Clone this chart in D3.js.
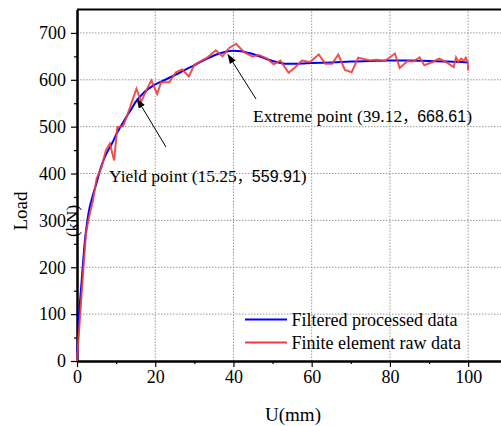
<!DOCTYPE html>
<html><head><meta charset="utf-8">
<script src="https://cdn.jsdelivr.net/npm/d3@7"></script>
<style>body{margin:0;background:#fff}svg{display:block}text{font-family:"Liberation Serif","Times New Roman",serif;fill:#000}</style>
</head><body><svg id="c" width="501" height="426"></svg>
<script>
// Filtered processed data (blue)
const filteredU = [0,0.5,1,1.5,2,2.5,3,4,5,6,7,8,9,10,11,12,13,14,15,16,17,18,19,20,22,24,26,28,30,32,34,36,38,40,42,44,46,48,50,52,54,56,58,60,65,70,75,80,85,90,95,100];
const filteredLoad = [0,95,150,205,255,290,318,352,380,410,433,450,465,483,498,512,526,539,553,563,572,579,585,590,598,606,614,623,631,640,648,655,660,662,661,657,652,646,640,636,634,634,635,636,637,639,640,641,641,640,639,637];
// Finite element raw data (red)
const rawU = [0,1.6,2.3,2.9,3.3,4.1,5.0,6.3,7.4,8.4,9.5,10.3,11.8,13.0,15.2,16.4,17.7,19.0,20.5,21.5,23.6,25.3,26.9,28.6,30.0,33.4,35.5,37.2,38.9,40.7,42.7,44.8,46.5,48.6,50.3,52.0,54.1,55.8,57.5,59.6,61.8,63.5,65.2,66.8,68.5,70.2,71.9,74.9,76.6,78.7,81.3,82.5,84.5,85.9,87.6,88.8,90.9,92.6,94.3,96.3,96.9,97.5,98.2,98.9,99.4,99.9,100];
const rawLoad = [0,194,272,300,315,343,389,414,450,464,428,499,501,528,581,553,577,599,570,595,595,616,622,607,632,648,663,650,668,677,659,650,653,645,633,641,615,627,641,638,654,634,634,654,621,616,647,641,643,640,656,625,640,639,648,631,638,645,638,627,648,638,645,641,647,638,620];
const xTicks = [0,20,40,60,80,100];
const yTicks = [0,100,200,300,400,500,600,700];
const legendLabels = ["Filtered processed data","Finite element raw data"];
const yieldPoint = {u:15.25, load:559.91};
const extremePoint = {u:39.12, load:668.61};

const svg = d3.select("#c");
const L = 77, R = 501, T = 9.5, B = 361;
const x = d3.scaleLinear().domain([0,108.4]).range([L,R]);
const y = d3.scaleLinear().domain([0,750]).range([B,T]);

// grid
const g = svg.append("g");
g.selectAll(".gx").data(xTicks.slice(1)).enter().append("line")
  .attr("x1",d=>x(d)).attr("x2",d=>x(d)).attr("y1",B).attr("y2",T)
  .attr("stroke","#999").attr("stroke-width",1).attr("stroke-dasharray","1.5,1.5");
g.selectAll(".gy").data(yTicks.slice(1)).enter().append("line")
  .attr("x1",L).attr("x2",R).attr("y1",d=>y(d)).attr("y2",d=>y(d))
  .attr("stroke","#999").attr("stroke-width",1).attr("stroke-dasharray","1.5,1.5");

// axes
const xMinor = d3.range(10,101,20);
const yMinor = d3.range(50,751,100).filter(v=>v<750);
const xAxis = d3.axisBottom(x).tickValues(xTicks).tickSize(6).tickSizeOuter(0).tickPadding(3);
const xa = svg.append("g").attr("transform",`translate(0,${B})`).call(xAxis);
xa.selectAll("text").attr("font-size",18).style("font-family","Liberation Serif");
const xa2 = svg.append("g").attr("transform",`translate(0,${B})`).call(d3.axisBottom(x).tickValues(xMinor).tickSize(3).tickFormat("").tickSizeOuter(0));
const yAxis = d3.axisLeft(y).tickValues(yTicks).tickSize(6).tickSizeOuter(0).tickPadding(5);
const ya = svg.append("g").attr("transform",`translate(${L},0)`).call(yAxis);
ya.selectAll("text").attr("font-size",18).style("font-family","Liberation Serif");
const ya2 = svg.append("g").attr("transform",`translate(${L},0)`).call(d3.axisLeft(y).tickValues(yMinor).tickSize(3).tickFormat("").tickSizeOuter(0));
[xa,xa2,ya,ya2].forEach(a=>{a.select(".domain").attr("stroke","#000").attr("stroke-width",2);a.selectAll(".tick line").attr("stroke","#000").attr("stroke-width",1.2);});
svg.append("line").attr("x1",L).attr("x2",R).attr("y1",T).attr("y2",T).attr("stroke","#000").attr("stroke-width",2);

// lines
const lineF = d3.line().x((d,i)=>x(filteredU[i])).y(d=>y(d)).curve(d3.curveMonotoneX);
svg.append("path").attr("d",lineF(filteredLoad)).attr("fill","none").attr("stroke","#0000ff").attr("stroke-width",2);
const lineR = d3.line().x((d,i)=>x(rawU[i])).y(d=>y(d));
svg.append("path").attr("d",lineR(rawLoad)).attr("fill","none").attr("stroke","#f03c3c").attr("stroke-width",2).attr("stroke-opacity",0.9);

// arrows
const defs = svg.append("defs");
defs.append("marker").attr("id","ah").attr("viewBox","0 0 10 10").attr("refX",9).attr("refY",5)
  .attr("markerWidth",10).attr("markerHeight",10).attr("markerUnits","userSpaceOnUse").attr("orient","auto")
  .append("path").attr("d","M0,1.5 L10,5 L0,8.5 Z").attr("fill","#000");
svg.append("line").attr("x1",166).attr("y1",147).attr("x2",x(yieldPoint.u)+0.5).attr("y2",y(yieldPoint.load)+0.5)
  .attr("stroke","#000").attr("stroke-width",1).attr("marker-end","url(#ah)");
svg.append("line").attr("x1",256).attr("y1",99).attr("x2",x(extremePoint.u)-2).attr("y2",y(extremePoint.load)+7)
  .attr("stroke","#000").attr("stroke-width",1).attr("marker-end","url(#ah)");

// annotations
function annot(xp, yp, name, p){
  const t = svg.append("text").attr("x",xp).attr("y",yp).attr("font-size",17.5);
  t.append("tspan").text(`${name} (${p.u}`);
  t.append("tspan").style("font-family","Noto Sans CJK SC").attr("font-size",15).text("，");
  t.append("tspan").style("font-family","Liberation Sans").attr("font-size",16).text(p.load.toFixed(2));
  t.append("tspan").text(")");
}
annot(109,182,"Yield point",yieldPoint);
annot(253,122,"Extreme point",extremePoint);

// axis labels
svg.append("text").attr("x",(L+R)/2+4).attr("y",421).attr("text-anchor","middle").attr("font-size",19).text("U(mm)");
svg.append("text").attr("transform","translate(27,211) rotate(-90)").attr("text-anchor","middle").attr("font-size",19).text("Load");
svg.append("text").attr("transform","translate(78,221) rotate(-90)").attr("text-anchor","middle").attr("font-size",17).text("(kN)");

// legend
const colors = ["#0000ff","#f03c3c"];
legendLabels.forEach((lab,i)=>{
  const ly = 319.5 + i*23;
  svg.append("line").attr("x1",245).attr("x2",287).attr("y1",ly).attr("y2",ly).attr("stroke",colors[i]).attr("stroke-width",2);
  svg.append("text").attr("x",291.5).attr("y",ly+6.5).attr("font-size",18).text(lab);
});
</script></body></html>
